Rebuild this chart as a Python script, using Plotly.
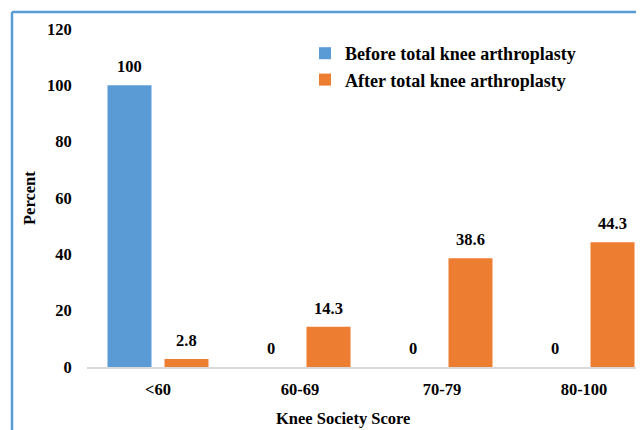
import plotly.graph_objects as go

categories = ["<60", "60-69", "70-79", "80-100"]
before_tka = [100, 0, 0, 0]
after_tka = [2.8, 14.3, 38.6, 44.3]
series_names = ["Before total knee arthroplasty", "After total knee arthroplasty"]
y_ticks = [0, 20, 40, 60, 80, 100, 120]

W, H = 644, 430
OFF = 8  # page body margin: figure pixel p appears at p + OFF on screen
L, R = 87 - OFF, 0
T = 29 - OFF
B = H - (367 - OFF)
pw, ph = W - L - R, H - T - B
cat_px = 142.0
n_cats_visible = pw / cat_px

def px_x(p):  # screen pixel -> paper
    return (p - OFF - L) / pw

def px_y(p):
    return (H - B - (p - OFF)) / ph

FONT = "Liberation Serif"
FS = 16.5
BLUE = "#5b9bd5"
ORANGE = "#ed7d31"
bold = dict(family=FONT, size=FS, color="black", weight="bold")
legend_font = dict(family=FONT, size=18, color="black", weight="bold")

fig = go.Figure()
fig.add_trace(go.Bar(x=categories, y=before_tka, name=series_names[0],
                     marker=dict(color=BLUE, line=dict(width=0)),
                     legendgroup="a"))
fig.add_trace(go.Bar(x=categories, y=after_tka, name=series_names[1],
                     marker=dict(color=ORANGE, line=dict(width=0)),
                     legendgroup="b"))

half = cat_px * (1 - 0.197) / 4  # offset of bar centre from category centre
for vals, shift in ((before_tka, -half), (after_tka, half)):
    for c, v in zip(categories, vals):
        fig.add_annotation(x=c, y=v, text=str(v), showarrow=False,
                           xanchor="center", yanchor="bottom", xshift=shift, yshift=7,
                           font=bold)

fig.add_annotation(x=px_x(343), y=px_y(418), xref="paper", yref="paper",
                   text="Knee Society Score", showarrow=False,
                   xanchor="center", yanchor="middle", font=bold)
fig.add_annotation(x=px_x(29), y=0.5, xref="paper", yref="paper",
                   text="Percent", showarrow=False, textangle=-90,
                   xanchor="center", yanchor="middle", font=bold)

# outer blue frame (cropped at right and bottom)
fig.add_shape(type="line", xref="paper", yref="paper",
              x0=px_x(12), x1=px_x(W + 40), y0=px_y(12), y1=px_y(12),
              line=dict(color=BLUE, width=2.5))
fig.add_shape(type="line", xref="paper", yref="paper",
              x0=px_x(12), x1=px_x(12), y0=px_y(12), y1=px_y(H + 40),
              line=dict(color=BLUE, width=2.5))

fig.update_layout(
    width=W, height=H,
    margin=dict(l=L, r=R, t=T, b=B),
    paper_bgcolor="white", plot_bgcolor="white",
    barmode="group", bargap=0.197, bargroupgap=0.228,
    font=bold,
    legend=dict(x=px_x(305), y=px_y(35), xanchor="left", yanchor="top",
                font=legend_font, bgcolor="rgba(0,0,0,0)", itemwidth=30,
                tracegroupgap=9, traceorder="normal"),
    showlegend=True,
)
fig.update_xaxes(type="category", range=[-0.5, -0.5 + n_cats_visible],
                 showgrid=False, showline=True, linecolor="#d9d9d9", linewidth=1.5,
                 ticks="outside", ticklen=6, tickcolor="rgba(0,0,0,0)",
                 tickfont=bold)
fig.update_yaxes(range=[0, 120], tickvals=y_ticks, showgrid=False, showline=False,
                 zeroline=False, ticks="outside", ticklen=11,
                 tickcolor="rgba(0,0,0,0)", tickfont=bold)

fig.write_html("out.html")
